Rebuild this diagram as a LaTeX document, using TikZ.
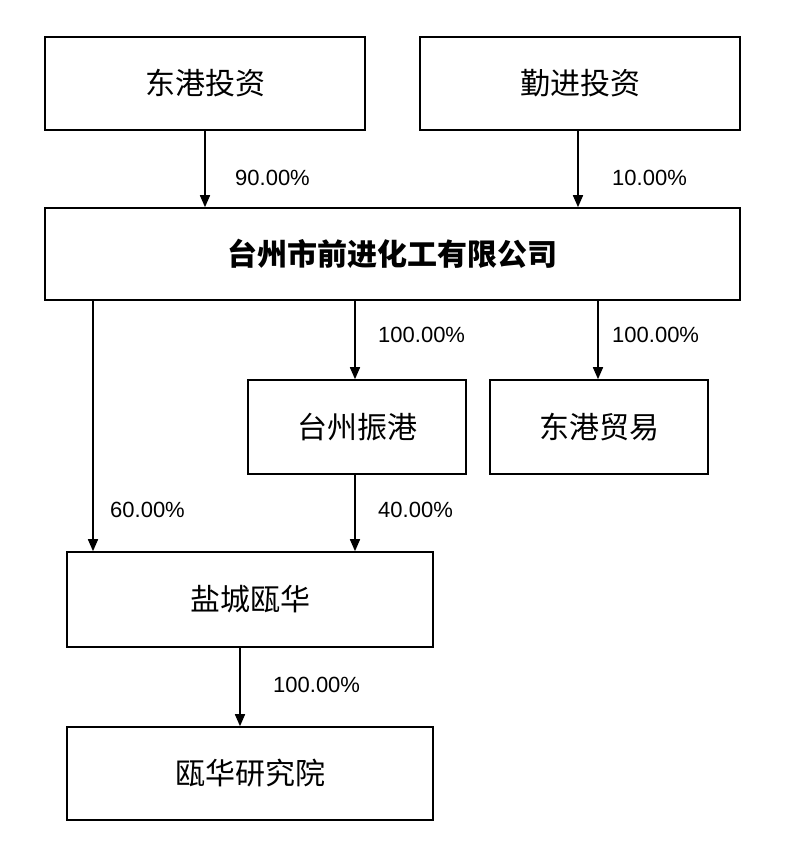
\documentclass[tikz,border=0pt]{standalone}
\usepackage{fontspec}
\setmainfont{Liberation Sans}
\newfontfamily\cjk{Noto Sans CJK SC}
\usetikzlibrary{arrows.meta}
\begin{document}
\begin{tikzpicture}[x=1pt,y=-1pt,
  box/.style={draw,line width=1.6pt,inner sep=0pt,font=\cjk\fontsize{30}{36}\selectfont},
  arr/.style={line width=1.6pt,-{Triangle[length=12pt,width=10pt]}},
  pct/.style={font=\fontsize{22}{26}\selectfont,anchor=west,inner sep=0pt}]
\useasboundingbox (0,0) rectangle (800,845);
\node[box,minimum width=320pt,minimum height=93pt] (a) at (205,83.5) {东港投资};
\node[box,minimum width=320pt,minimum height=93pt] (b) at (580,83.5) {勤进投资};
\node[box,minimum width=695pt,minimum height=92pt,font=\cjk\bfseries\fontsize{30}{36}\selectfont] (c) at (392.5,254) {台州市前进化工有限公司};
\node[box,minimum width=218pt,minimum height=94pt] (d) at (357,427) {台州振港};
\node[box,minimum width=218pt,minimum height=94pt] (e) at (599,427) {东港贸易};
\node[box,minimum width=366pt,minimum height=95pt] (f) at (250,599.5) {盐城瓯华};
\node[box,minimum width=366pt,minimum height=93pt] (g) at (250,773.5) {瓯华研究院};
\draw[arr] (a.south -| 205,0) -- (c.north -| 205,0);
\draw[arr] (b.south -| 578,0) -- (c.north -| 578,0);
\draw[arr] (c.south -| 93,0) -- (f.north -| 93,0);
\draw[arr] (c.south -| 355,0) -- (d.north -| 355,0);
\draw[arr] (c.south -| 598,0) -- (e.north -| 598,0);
\draw[arr] (d.south -| 355,0) -- (f.north -| 355,0);
\draw[arr] (f.south -| 240,0) -- (g.north -| 240,0);
\node[pct] (p1) at (235,178) {90.00\%};
\node[pct] (p2) at (612,178) {10.00\%};
\node[pct] (p3) at (110,510) {60.00\%};
\node[pct] (p4) at (378,335) {100.00\%};
\node[pct] (p5) at (612,335) {100.00\%};
\node[pct] (p6) at (378,510) {40.00\%};
\node[pct] (p7) at (273,685) {100.00\%};
\end{tikzpicture}
\end{document}
